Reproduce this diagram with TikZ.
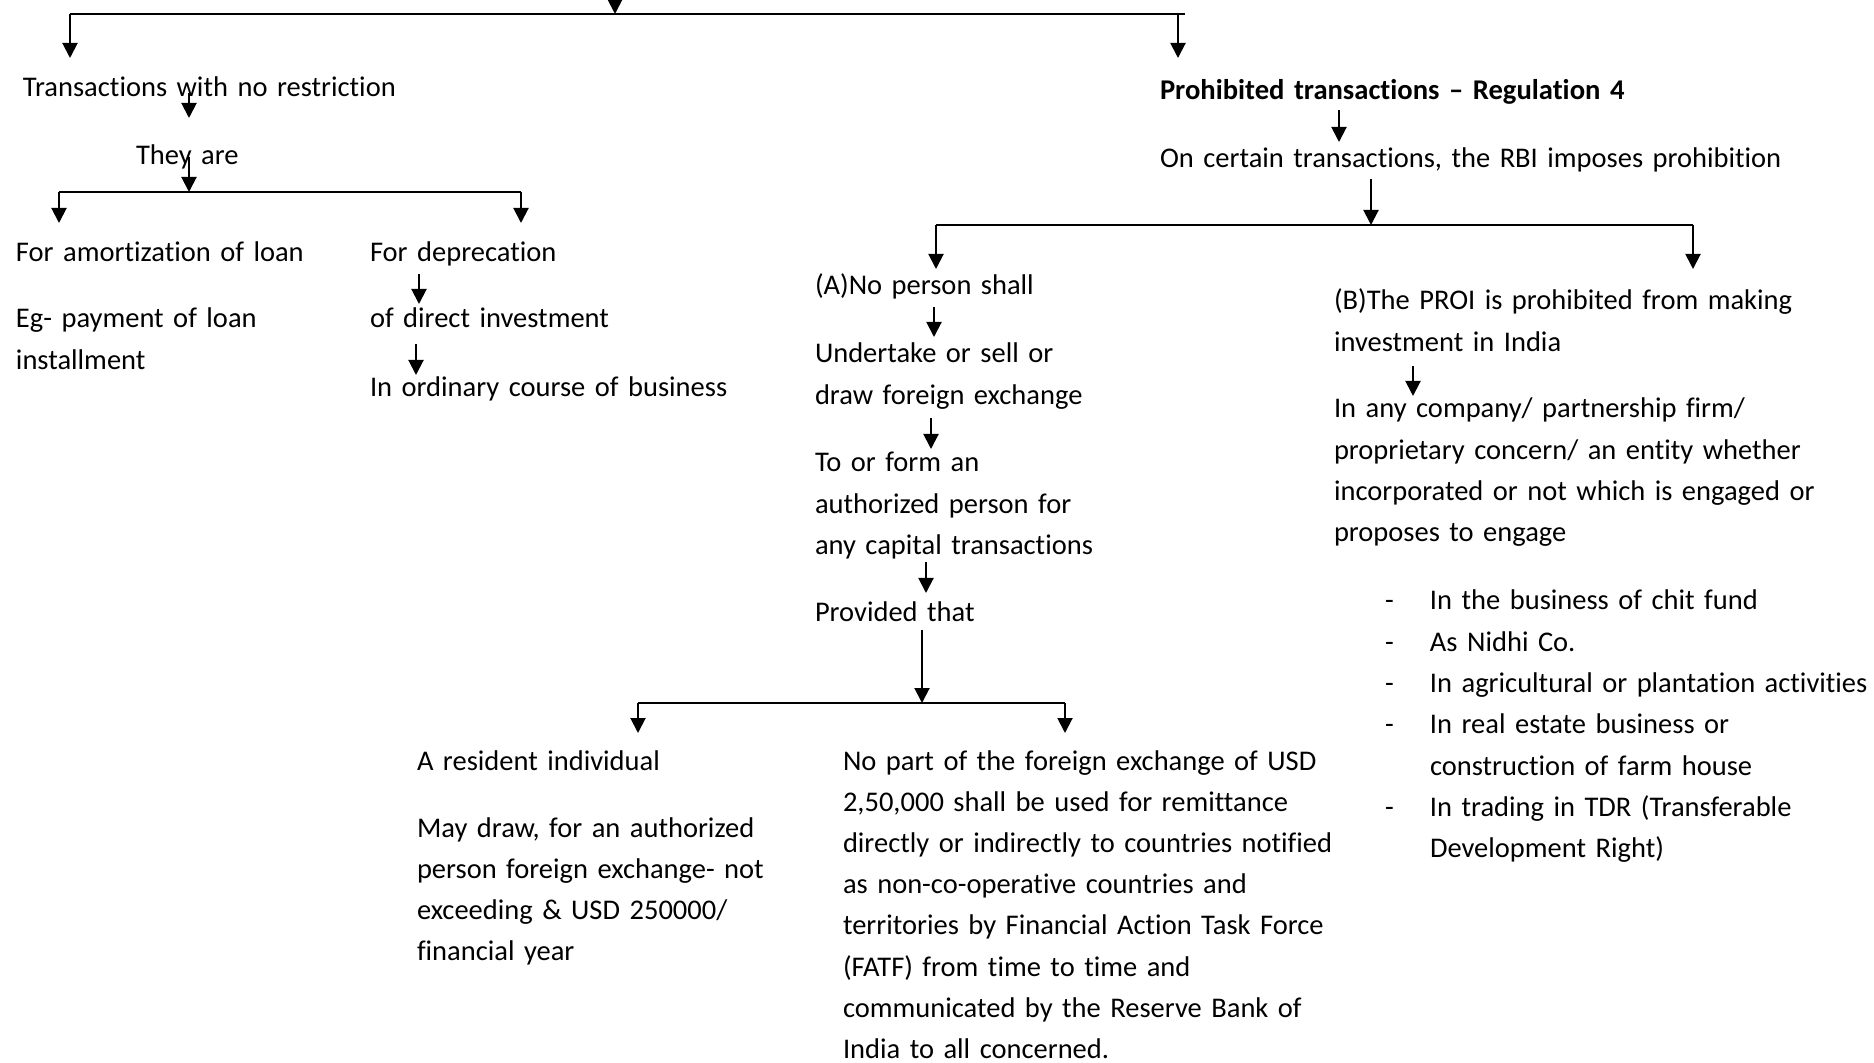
\documentclass[tikz,border=0pt]{standalone}
\usepackage{fontspec}
\setmainfont{Carlito}[Ligatures=NoCommon]
\usetikzlibrary{arrows.meta}
\hyphenpenalty=10000
\begin{document}
\begin{tikzpicture}[x=0.5pt,y=-0.5pt,
  every node/.style={inner sep=0pt,outer sep=0pt},
  txt/.style={anchor=base west,font=\fontsize{14.25}{20.65}\selectfont,align=left,text width=500pt},
  boldtxt/.style={txt,font=\fontsize{14.3}{20.65}\selectfont\bfseries},
  arr/.style={line width=1pt,-{Triangle[length=7.5pt,width=7.5pt]}},
  bar/.style={line width=1.15pt}]
\fill[white] (0,0) rectangle (1874,1063);
\useasboundingbox (0,0) rectangle (1874,1063);

% ---------- text ----------
\node[txt] (tnr) at (23,97) {Transactions with no restriction};
\node[txt] (they) at (136,165) {They are};
\node[txt] (amort) at (16,262) {For amortization of loan};
\node[txt] (eg) at (16,328) {Eg- payment of loan\\installment};
\node[txt] (depr) at (370,262) {For deprecation};
\node[txt] (direct) at (370,328) {of direct investment};
\node[txt] (ordinary) at (370,397) {In ordinary course of business};

\node[boldtxt] (proh) at (1160,100) {Prohibited transactions – Regulation 4};
\node[txt] (rbi) at (1160,168) {On certain transactions, the RBI imposes prohibition};

\node[txt] (A) at (815,295) {(A)No person shall};
\node[txt] (under) at (815,363) {Undertake or sell or\\draw foreign exchange};
\node[txt] (toform) at (815,472) {To or form an\\authorized person for\\any capital transactions};
\node[txt] (prov) at (815,622) {Provided that};

\node[txt] (B) at (1334,310) {(B)The PROI is prohibited from making\\investment in India};
\node[txt] (company) at (1334,418) {In any company/ partnership firm/\\proprietary concern/ an entity whether\\incorporated or not which is engaged or\\proposes to engage};
\node[txt] (items) at (1385,610) {%
  \makebox[22.5pt][l]{-}In the business of chit fund\\
  \makebox[22.5pt][l]{-}As Nidhi Co.\\
  \makebox[22.5pt][l]{-}In agricultural or plantation activities\\
  \makebox[22.5pt][l]{-}In real estate business or\\
  \hspace*{22.5pt}construction of farm house\\
  \makebox[22.5pt][l]{-}In trading in TDR (Transferable\\
  \hspace*{22.5pt}Development Right)};

\node[txt] (resident) at (417,770) {A resident individual};
\node[txt] (maydraw) at (417,837) {May draw, for an authorized\\person foreign exchange- not\\exceeding \& USD 250000/\\financial year};
\node[txt,font=\fontsize{14.25}{20.6}\selectfont] (nopart) at (843,770) {No part of the foreign exchange of USD\\2,50,000 shall be used for remittance\\directly or indirectly to countries notified\\as non-co-operative countries and\\territories by Financial Action Task Force\\(FATF) from time to time and\\communicated by the Reserve Bank of\\India to all concerned.};

% ---------- junction points ----------
\coordinate (src) at (615,0);
\coordinate (j0) at (615,14);
\coordinate (j0l) at (70,14);
\coordinate (j0r) at (1185,14);
\coordinate (j0ra) at (1178,14);
\coordinate (j1) at (189,192);
\coordinate (j1l) at (59,192);
\coordinate (j1r) at (521,192);
\coordinate (j3) at (1371,225);
\coordinate (j3l) at (936,225);
\coordinate (j3r) at (1693,225);
\coordinate (j4) at (922,703);
\coordinate (j4l) at (638,703);
\coordinate (j4r) at (1065,703);

% ---------- connectors ----------
\draw[arr] (src) -- (j0);
\draw[bar] (j0l) -- (j0r);
\draw[arr] (j0l) -- ++(0,44);
\draw[arr] (j0ra) -- ++(0,44);

\draw[arr] (189,93) coordinate (tnrout) -- (189,118) coordinate (theyin);
\draw[arr] (189,157) coordinate (theyout) -- (j1);
\draw[bar] (j1l) -- (j1r);
\draw[arr] (j1l) -- ++(0,31);
\draw[arr] (j1r) -- ++(0,31);
\draw[arr] (419,274) coordinate (deprout) -- (419,304) coordinate (directin);
\draw[arr] (416,344) coordinate (directout) -- (416,375) coordinate (ordin);

\draw[arr] (1339,110) coordinate (prohout) -- (1339,142) coordinate (rbiin);
\draw[arr] (1371,179) coordinate (rbiout) -- (j3);
\draw[bar] (j3l) -- (j3r);
\draw[arr] (j3l) -- ++(0,44);
\draw[arr] (j3r) -- ++(0,44);

\draw[arr] (934,307) coordinate (Aout) -- (934,337) coordinate (underin);
\draw[arr] (931,418) coordinate (underout) -- (931,449) coordinate (toformin);
\draw[arr] (926,562) coordinate (toformout) -- (926,593) coordinate (provin);
\draw[arr] (922,630) coordinate (provout) -- (j4);
\draw[bar] (j4l) -- (j4r);
\draw[arr] (j4l) -- ++(0,30);
\draw[arr] (j4r) -- ++(0,30);

\draw[arr] (1413,366) coordinate (Bout) -- (1413,396) coordinate (companyin);
\end{tikzpicture}
\end{document}
